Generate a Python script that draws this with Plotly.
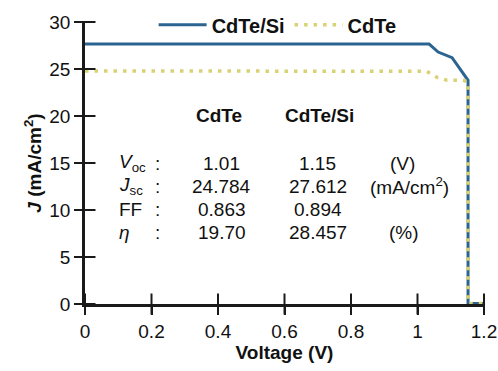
import plotly.graph_objects as go

# ---- data ----
v_cdte_si = [0.0, 1.035, 1.062, 1.104, 1.152, 1.152, 1.2]
j_cdte_si = [27.65, 27.65, 26.8, 26.2, 23.8, 0.05, 0.05]
v_cdte = [0.0, 1.028, 1.059, 1.089, 1.137, 1.152, 1.152, 1.2]
j_cdte = [24.8, 24.75, 24.1, 23.8, 23.8, 23.6, 0.05, 0.05]

param_labels = ["<i>V</i><sub>oc</sub>", "<i>J</i><sub>sc</sub>", "FF", "<i>η</i>"]
cdte_vals = ["1.01", "24.784", "0.863", "19.70"]
cdte_si_vals = ["1.15", "27.612", "0.894", "28.457"]
units = ["(V)", "(mA/cm<sup>2</sup>)", "", "(%)"]
col_headers = ["CdTe", "CdTe/Si"]

x_ticks = [0, 0.2, 0.4, 0.6, 0.8, 1, 1.2]
x_ticktext = ["0", "0.2", "0.4", "0.6", "0.8", "1", "1.2"]
y_ticks = [0, 5, 10, 15, 20, 25, 30]

FONT = "Arial, Liberation Sans, sans-serif"
FS = 19
BLUE = "#2c6491"
YEL = "#d8d274"
AX = "#1a1a1a"

fig = go.Figure()
fig.add_trace(go.Scatter(x=v_cdte_si, y=j_cdte_si, mode="lines", name="<b>CdTe/Si</b>",
                         line=dict(color=BLUE, width=3)))
fig.add_trace(go.Scatter(x=v_cdte, y=j_cdte, mode="lines", name="<b>CdTe</b>",
                         line=dict(color=YEL, width=3.5, dash="3.5px,6px")))

# crossing tick marks ("+" style) placed at the tick values on each axis
fig.add_trace(go.Scatter(x=x_ticks, y=[0] * len(x_ticks), mode="markers", showlegend=False,
                         hoverinfo="skip", cliponaxis=False,
                         marker=dict(symbol="line-ns", size=15, color=AX,
                                     line=dict(width=2, color=AX))))
fig.add_trace(go.Scatter(x=[0] * len(y_ticks), y=y_ticks, mode="markers", showlegend=False,
                         hoverinfo="skip", cliponaxis=False,
                         marker=dict(symbol="line-ew", size=15, color=AX,
                                     line=dict(width=2, color=AX))))

# ---- table annotations ----
ann = []
hdr_x = [0.403, 0.704]
for h, hx in zip(col_headers, hdr_x):
    ann.append(dict(x=hx, y=20.1, xref="x", yref="y", text=f"<b>{h}</b>", showarrow=False,
                    xanchor="center", yanchor="middle", font=dict(size=FS, color="#111")))
row_y = [15.0 - i * 2.45 for i in range(4)]
unit_x = [0.912, 0.85, 0.9, 0.908]
for i in range(4):
    y = row_y[i]
    ann.append(dict(x=0.097, y=y, xref="x", yref="y", text=param_labels[i], showarrow=False,
                    xanchor="left", yanchor="middle", font=dict(size=FS, color="#111")))
    ann.append(dict(x=0.217, y=y, xref="x", yref="y", text=":", showarrow=False,
                    xanchor="center", yanchor="middle", font=dict(size=FS, color="#111")))
    ann.append(dict(x=0.412, y=y, xref="x", yref="y", text=cdte_vals[i], showarrow=False,
                    xanchor="center", yanchor="middle", font=dict(size=FS, color="#111")))
    ann.append(dict(x=0.70, y=y, xref="x", yref="y", text=cdte_si_vals[i], showarrow=False,
                    xanchor="center", yanchor="middle", font=dict(size=FS, color="#111")))
    if units[i]:
        ann.append(dict(x=unit_x[i], y=y, xref="x", yref="y", text=units[i], showarrow=False,
                        xanchor="left", yanchor="middle", font=dict(size=FS, color="#111")))

axis_common = dict(showgrid=False, zeroline=False, showline=True, linecolor=AX, linewidth=2.5,
                   tickcolor=AX, tickwidth=2, ticklen=8, automargin=False)

fig.update_layout(
    width=498, height=371,
    margin=dict(l=85, r=14, t=22, b=67, autoexpand=False),
    paper_bgcolor="white", plot_bgcolor="white",
    font=dict(family=FONT, size=FS, color="#111"),
    showlegend=True,
    legend=dict(orientation="h", x=0.172, y=0.99, xanchor="left", yanchor="middle",
                bgcolor="rgba(0,0,0,0)", itemwidth=48, font=dict(size=20),
                tracegroupgap=0, itemsizing="trace"),
    annotations=ann,
    xaxis=dict(range=[0, 1.2], tickvals=x_ticks, ticktext=x_ticktext, ticks="outside",
               title=dict(text="<b>Voltage (V)</b>", standoff=6, font=dict(size=FS)),
               tickfont=dict(size=FS), **axis_common),
    yaxis=dict(range=[0, 30], tickvals=y_ticks, ticks="outside",
               title=dict(text="<b><i>J</i> (mA/cm<sup>2</sup>)</b>", standoff=3, font=dict(size=FS)),
               tickfont=dict(size=FS), **axis_common),
)

fig.write_html("out.html")
